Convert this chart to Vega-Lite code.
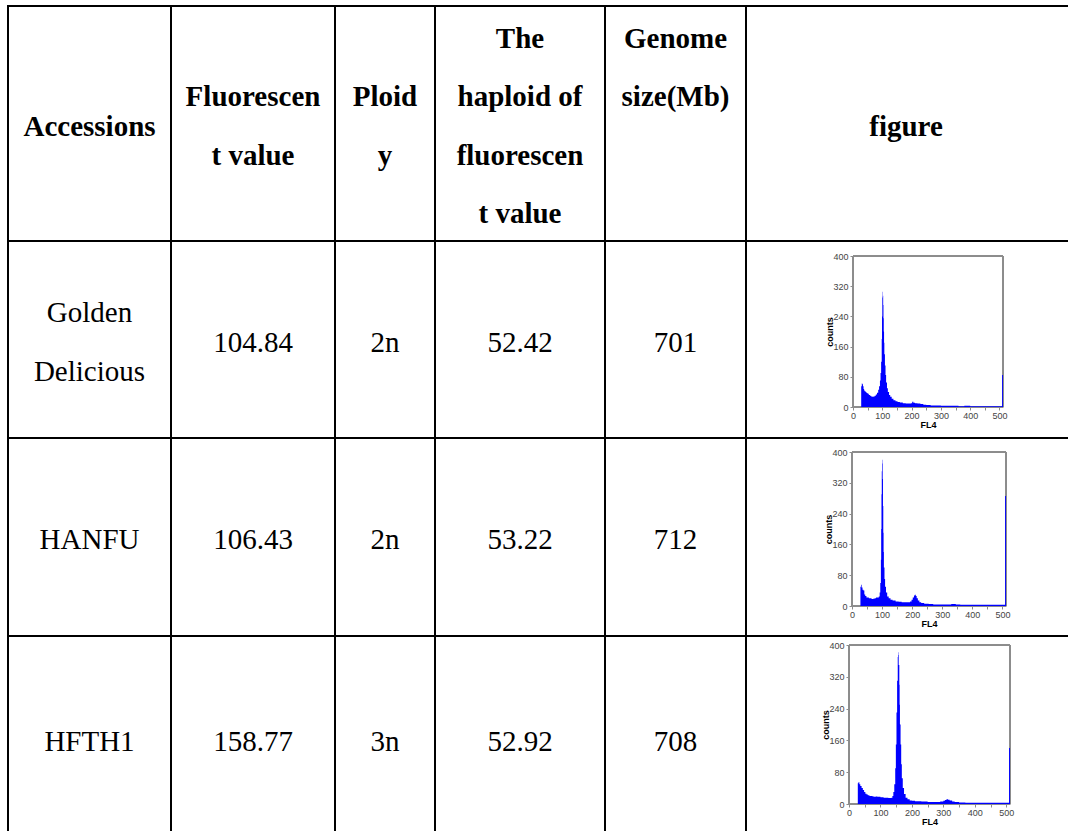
{
  "$schema": "https://vega.github.io/schema/vega-lite/v6.json",
  "background": "white",
  "padding": {"left": 7, "top": 5, "right": 0, "bottom": 0},
  "columns": 6,
  "align": "each",
  "bounds": "flush",
  "spacing": 0,
  "config": {
    "view": {"stroke": "black", "strokeWidth": 2},
    "text": {"font": "Liberation Serif", "fontSize": 29, "color": "black"},
    "axis": {"grid": false, "domainColor": "#8c8c8c", "tickColor": "#8c8c8c", "labelFont": "Liberation Sans", "labelFontSize": 9, "labelLineHeight": 10, "labelColor": "#444444", "titleFont": "Liberation Sans", "titleFontSize": 9, "titleFontWeight": "bold", "titleColor": "black", "labelOverlap": false, "labelFlush": false}
  },
  "datasets": {
    "table": [
      {"id": "GD", "name": "Golden\nDelicious", "fluor": 104.84, "ploidy": "2n", "haploid": 52.42, "genome": 701},
      {"id": "HANFU", "name": "HANFU", "fluor": 106.43, "ploidy": "2n", "haploid": 53.22, "genome": 712},
      {"id": "HFTH1", "name": "HFTH1", "fluor": 158.77, "ploidy": "3n", "haploid": 52.92, "genome": 708}
    ],
    "hist": [
      {"id":"GD","fl":0,"n":0},{"id":"GD","fl":27,"n":0},{"id":"GD","fl":28,"n":55},{"id":"GD","fl":30,"n":62},{"id":"GD","fl":32,"n":60},{"id":"GD","fl":34,"n":55},{"id":"GD","fl":36,"n":48},{"id":"GD","fl":38,"n":44},{"id":"GD","fl":40,"n":42},{"id":"GD","fl":43,"n":40},{"id":"GD","fl":46,"n":37},{"id":"GD","fl":50,"n":35},{"id":"GD","fl":54,"n":32},{"id":"GD","fl":58,"n":30},{"id":"GD","fl":62,"n":28},{"id":"GD","fl":66,"n":27},{"id":"GD","fl":70,"n":28},{"id":"GD","fl":74,"n":30},{"id":"GD","fl":78,"n":33},{"id":"GD","fl":82,"n":38},{"id":"GD","fl":86,"n":46},{"id":"GD","fl":89,"n":55},{"id":"GD","fl":92,"n":70},{"id":"GD","fl":94,"n":90},{"id":"GD","fl":96,"n":120},{"id":"GD","fl":98,"n":180},{"id":"GD","fl":99,"n":240},{"id":"GD","fl":100,"n":290},{"id":"GD","fl":101,"n":305},{"id":"GD","fl":102,"n":295},{"id":"GD","fl":103,"n":270},{"id":"GD","fl":104,"n":235},{"id":"GD","fl":105,"n":200},{"id":"GD","fl":106,"n":170},{"id":"GD","fl":107,"n":140},{"id":"GD","fl":109,"n":110},{"id":"GD","fl":111,"n":85},{"id":"GD","fl":113,"n":65},{"id":"GD","fl":116,"n":50},{"id":"GD","fl":119,"n":40},{"id":"GD","fl":123,"n":32},{"id":"GD","fl":127,"n":27},{"id":"GD","fl":132,"n":22},{"id":"GD","fl":138,"n":18},{"id":"GD","fl":145,"n":15},{"id":"GD","fl":152,"n":13},{"id":"GD","fl":160,"n":12},{"id":"GD","fl":170,"n":10},{"id":"GD","fl":180,"n":9},{"id":"GD","fl":190,"n":9},{"id":"GD","fl":198,"n":10},{"id":"GD","fl":202,"n":14},{"id":"GD","fl":206,"n":11},{"id":"GD","fl":212,"n":10},{"id":"GD","fl":220,"n":9},{"id":"GD","fl":230,"n":8},{"id":"GD","fl":240,"n":6},{"id":"GD","fl":250,"n":5},{"id":"GD","fl":265,"n":4},{"id":"GD","fl":280,"n":4},{"id":"GD","fl":300,"n":3},{"id":"GD","fl":320,"n":3},{"id":"GD","fl":340,"n":3},{"id":"GD","fl":360,"n":2},{"id":"GD","fl":380,"n":3},{"id":"GD","fl":400,"n":2},{"id":"GD","fl":420,"n":2},{"id":"GD","fl":440,"n":2},{"id":"GD","fl":460,"n":2},{"id":"GD","fl":480,"n":2},{"id":"GD","fl":500,"n":2},{"id":"GD","fl":509,"n":85},{"id":"GD","fl":512,"n":85},
      {"id":"HANFU","fl":0,"n":0},{"id":"HANFU","fl":27,"n":0},{"id":"HANFU","fl":28,"n":50},{"id":"HANFU","fl":30,"n":55},{"id":"HANFU","fl":32,"n":48},{"id":"HANFU","fl":35,"n":42},{"id":"HANFU","fl":38,"n":40},{"id":"HANFU","fl":41,"n":30},{"id":"HANFU","fl":44,"n":26},{"id":"HANFU","fl":48,"n":22},{"id":"HANFU","fl":52,"n":22},{"id":"HANFU","fl":56,"n":20},{"id":"HANFU","fl":60,"n":20},{"id":"HANFU","fl":65,"n":18},{"id":"HANFU","fl":70,"n":19},{"id":"HANFU","fl":75,"n":20},{"id":"HANFU","fl":80,"n":22},{"id":"HANFU","fl":85,"n":22},{"id":"HANFU","fl":89,"n":25},{"id":"HANFU","fl":92,"n":35},{"id":"HANFU","fl":94,"n":60},{"id":"HANFU","fl":96,"n":120},{"id":"HANFU","fl":97,"n":200},{"id":"HANFU","fl":98,"n":290},{"id":"HANFU","fl":99,"n":350},{"id":"HANFU","fl":100,"n":380},{"id":"HANFU","fl":101,"n":370},{"id":"HANFU","fl":102,"n":330},{"id":"HANFU","fl":103,"n":260},{"id":"HANFU","fl":104,"n":190},{"id":"HANFU","fl":105,"n":140},{"id":"HANFU","fl":106,"n":100},{"id":"HANFU","fl":108,"n":70},{"id":"HANFU","fl":110,"n":50},{"id":"HANFU","fl":113,"n":35},{"id":"HANFU","fl":117,"n":25},{"id":"HANFU","fl":122,"n":20},{"id":"HANFU","fl":128,"n":16},{"id":"HANFU","fl":135,"n":14},{"id":"HANFU","fl":145,"n":12},{"id":"HANFU","fl":155,"n":11},{"id":"HANFU","fl":165,"n":10},{"id":"HANFU","fl":175,"n":10},{"id":"HANFU","fl":185,"n":10},{"id":"HANFU","fl":193,"n":12},{"id":"HANFU","fl":198,"n":16},{"id":"HANFU","fl":202,"n":22},{"id":"HANFU","fl":206,"n":27},{"id":"HANFU","fl":209,"n":29},{"id":"HANFU","fl":212,"n":26},{"id":"HANFU","fl":215,"n":20},{"id":"HANFU","fl":219,"n":14},{"id":"HANFU","fl":224,"n":10},{"id":"HANFU","fl":230,"n":8},{"id":"HANFU","fl":240,"n":6},{"id":"HANFU","fl":255,"n":5},{"id":"HANFU","fl":270,"n":4},{"id":"HANFU","fl":290,"n":4},{"id":"HANFU","fl":310,"n":4},{"id":"HANFU","fl":330,"n":5},{"id":"HANFU","fl":345,"n":4},{"id":"HANFU","fl":360,"n":3},{"id":"HANFU","fl":380,"n":3},{"id":"HANFU","fl":400,"n":3},{"id":"HANFU","fl":430,"n":3},{"id":"HANFU","fl":460,"n":3},{"id":"HANFU","fl":490,"n":3},{"id":"HANFU","fl":505,"n":3},{"id":"HANFU","fl":509,"n":286},{"id":"HANFU","fl":512,"n":286},
      {"id":"HFTH1","fl":0,"n":0},{"id":"HFTH1","fl":27,"n":0},{"id":"HFTH1","fl":28,"n":52},{"id":"HFTH1","fl":30,"n":55},{"id":"HFTH1","fl":33,"n":50},{"id":"HFTH1","fl":36,"n":45},{"id":"HFTH1","fl":40,"n":40},{"id":"HFTH1","fl":44,"n":35},{"id":"HFTH1","fl":48,"n":30},{"id":"HFTH1","fl":52,"n":26},{"id":"HFTH1","fl":56,"n":24},{"id":"HFTH1","fl":60,"n":22},{"id":"HFTH1","fl":65,"n":20},{"id":"HFTH1","fl":70,"n":20},{"id":"HFTH1","fl":75,"n":19},{"id":"HFTH1","fl":80,"n":18},{"id":"HFTH1","fl":85,"n":19},{"id":"HFTH1","fl":90,"n":18},{"id":"HFTH1","fl":95,"n":18},{"id":"HFTH1","fl":100,"n":17},{"id":"HFTH1","fl":105,"n":17},{"id":"HFTH1","fl":110,"n":16},{"id":"HFTH1","fl":115,"n":16},{"id":"HFTH1","fl":120,"n":16},{"id":"HFTH1","fl":125,"n":15},{"id":"HFTH1","fl":130,"n":15},{"id":"HFTH1","fl":135,"n":16},{"id":"HFTH1","fl":138,"n":20},{"id":"HFTH1","fl":141,"n":30},{"id":"HFTH1","fl":144,"n":50},{"id":"HFTH1","fl":147,"n":90},{"id":"HFTH1","fl":149,"n":150},{"id":"HFTH1","fl":151,"n":230},{"id":"HFTH1","fl":153,"n":310},{"id":"HFTH1","fl":155,"n":370},{"id":"HFTH1","fl":156,"n":382},{"id":"HFTH1","fl":157,"n":375},{"id":"HFTH1","fl":158,"n":350},{"id":"HFTH1","fl":160,"n":300},{"id":"HFTH1","fl":161,"n":250},{"id":"HFTH1","fl":162,"n":200},{"id":"HFTH1","fl":164,"n":150},{"id":"HFTH1","fl":166,"n":100},{"id":"HFTH1","fl":168,"n":65},{"id":"HFTH1","fl":171,"n":40},{"id":"HFTH1","fl":175,"n":25},{"id":"HFTH1","fl":180,"n":16},{"id":"HFTH1","fl":186,"n":12},{"id":"HFTH1","fl":193,"n":9},{"id":"HFTH1","fl":200,"n":8},{"id":"HFTH1","fl":210,"n":7},{"id":"HFTH1","fl":220,"n":7},{"id":"HFTH1","fl":230,"n":6},{"id":"HFTH1","fl":240,"n":6},{"id":"HFTH1","fl":250,"n":5},{"id":"HFTH1","fl":260,"n":5},{"id":"HFTH1","fl":270,"n":5},{"id":"HFTH1","fl":280,"n":5},{"id":"HFTH1","fl":290,"n":6},{"id":"HFTH1","fl":300,"n":8},{"id":"HFTH1","fl":305,"n":10},{"id":"HFTH1","fl":310,"n":12},{"id":"HFTH1","fl":315,"n":11},{"id":"HFTH1","fl":320,"n":9},{"id":"HFTH1","fl":328,"n":6},{"id":"HFTH1","fl":336,"n":5},{"id":"HFTH1","fl":350,"n":4},{"id":"HFTH1","fl":370,"n":3},{"id":"HFTH1","fl":390,"n":3},{"id":"HFTH1","fl":410,"n":3},{"id":"HFTH1","fl":430,"n":3},{"id":"HFTH1","fl":450,"n":3},{"id":"HFTH1","fl":470,"n":3},{"id":"HFTH1","fl":490,"n":3},{"id":"HFTH1","fl":505,"n":3},{"id":"HFTH1","fl":509,"n":141},{"id":"HFTH1","fl":512,"n":141}
    ]
  },
  "concat": [
    {"width": 163, "height": 235, "data": {"values": [{}]}, "mark": {"type": "text", "fontWeight": "bold", "dy": 3}, "encoding": {"x": {"datum": 0.5, "type": "quantitative", "scale": {"domain": [0, 1]}, "axis": null}, "y": {"datum": 0.5, "type": "quantitative", "scale": {"domain": [0, 1]}, "axis": null}, "text": {"value": "Accessions"}}},
    {"width": 164, "height": 235, "data": {"values": [{}]}, "mark": {"type": "text", "fontWeight": "bold", "lineBreak": "\n", "lineHeight": 58.5, "dy": -26.25}, "encoding": {"x": {"datum": 0.5, "type": "quantitative", "scale": {"domain": [0, 1]}, "axis": null}, "y": {"datum": 0.5, "type": "quantitative", "scale": {"domain": [0, 1]}, "axis": null}, "text": {"value": "Fluorescen\nt value"}}},
    {"width": 100, "height": 235, "data": {"values": [{}]}, "mark": {"type": "text", "fontWeight": "bold", "lineBreak": "\n", "lineHeight": 58.5, "dy": -26.25}, "encoding": {"x": {"datum": 0.5, "type": "quantitative", "scale": {"domain": [0, 1]}, "axis": null}, "y": {"datum": 0.5, "type": "quantitative", "scale": {"domain": [0, 1]}, "axis": null}, "text": {"value": "Ploid\ny"}}},
    {"width": 170, "height": 235, "data": {"values": [{}]}, "mark": {"type": "text", "fontWeight": "bold", "lineBreak": "\n", "lineHeight": 58.5, "dy": -84.75}, "encoding": {"x": {"datum": 0.5, "type": "quantitative", "scale": {"domain": [0, 1]}, "axis": null}, "y": {"datum": 0.5, "type": "quantitative", "scale": {"domain": [0, 1]}, "axis": null}, "text": {"value": "The\nhaploid of\nfluorescen\nt value"}}},
    {"width": 141, "height": 235, "data": {"values": [{}]}, "mark": {"type": "text", "fontWeight": "bold", "lineBreak": "\n", "lineHeight": 58.5, "dy": -84.75}, "encoding": {"x": {"datum": 0.5, "type": "quantitative", "scale": {"domain": [0, 1]}, "axis": null}, "y": {"datum": 0.5, "type": "quantitative", "scale": {"domain": [0, 1]}, "axis": null}, "text": {"value": "Genome\nsize(Mb)"}}},
    {"width": 324, "height": 235, "data": {"values": [{}]}, "mark": {"type": "text", "fontWeight": "bold", "dx": -2, "dy": 3}, "encoding": {"x": {"datum": 0.5, "type": "quantitative", "scale": {"domain": [0, 1]}, "axis": null}, "y": {"datum": 0.5, "type": "quantitative", "scale": {"domain": [0, 1]}, "axis": null}, "text": {"value": "figure"}}},

    {"width": 163, "height": 197, "data": {"name": "table"}, "transform": [{"filter": "datum.id === 'GD'"}], "mark": {"type": "text", "lineBreak": "\n", "lineHeight": 58.5, "dy": -26.25}, "encoding": {"x": {"datum": 0.5, "type": "quantitative", "scale": {"domain": [0, 1]}, "axis": null}, "y": {"datum": 0.5, "type": "quantitative", "scale": {"domain": [0, 1]}, "axis": null}, "text": {"field": "name", "type": "nominal"}}},
    {"width": 164, "height": 197, "data": {"name": "table"}, "transform": [{"filter": "datum.id === 'GD'"}], "mark": {"type": "text", "dy": 3}, "encoding": {"x": {"datum": 0.5, "type": "quantitative", "scale": {"domain": [0, 1]}, "axis": null}, "y": {"datum": 0.5, "type": "quantitative", "scale": {"domain": [0, 1]}, "axis": null}, "text": {"field": "fluor", "type": "quantitative", "format": ".2f"}}},
    {"width": 100, "height": 197, "data": {"name": "table"}, "transform": [{"filter": "datum.id === 'GD'"}], "mark": {"type": "text", "dy": 3}, "encoding": {"x": {"datum": 0.5, "type": "quantitative", "scale": {"domain": [0, 1]}, "axis": null}, "y": {"datum": 0.5, "type": "quantitative", "scale": {"domain": [0, 1]}, "axis": null}, "text": {"field": "ploidy", "type": "nominal"}}},
    {"width": 170, "height": 197, "data": {"name": "table"}, "transform": [{"filter": "datum.id === 'GD'"}], "mark": {"type": "text", "dy": 3}, "encoding": {"x": {"datum": 0.5, "type": "quantitative", "scale": {"domain": [0, 1]}, "axis": null}, "y": {"datum": 0.5, "type": "quantitative", "scale": {"domain": [0, 1]}, "axis": null}, "text": {"field": "haploid", "type": "quantitative", "format": ".2f"}}},
    {"width": 141, "height": 197, "data": {"name": "table"}, "transform": [{"filter": "datum.id === 'GD'"}], "mark": {"type": "text", "dy": 3}, "encoding": {"x": {"datum": 0.5, "type": "quantitative", "scale": {"domain": [0, 1]}, "axis": null}, "y": {"datum": 0.5, "type": "quantitative", "scale": {"domain": [0, 1]}, "axis": null}, "text": {"field": "genome", "type": "quantitative", "format": "d"}}},
    {"width": 324, "height": 197, "data": {"name": "hist"}, "transform": [{"filter": "datum.id === 'GD'"}],
     "layer": [
       {"mark": {"type": "rect", "filled": false, "color": "#8c8c8c", "strokeWidth": 1},
        "encoding": {
          "x": {"datum": 0, "type": "quantitative", "scale": {"domain": [0, 512], "range": [107, 257]},
                "axis": {"title": "FL4", "offset": -31, "values": [0,50,100,150,200,250,300,350,400,450,500], "labelExpr": "datum.value % 100 === 0 ? datum.label : ''", "labelOverlap": false, "tickSize": 3, "labelPadding": 1, "titlePadding": 0}},
          "x2": {"datum": 512},
          "y": {"datum": 0, "type": "quantitative", "scale": {"domain": [0, 400], "range": [166, 15]},
                "axis": {"title": "counts", "offset": -107, "values": [0,80,160,240,320,400], "labelOverlap": false, "tickSize": 3, "labelPadding": 2, "titlePadding": -2}},
          "y2": {"datum": 400}}},
       {"mark": {"type": "area", "interpolate": "step-after", "color": "#0000ff"},
        "encoding": {
          "x": {"field": "fl", "type": "quantitative", "scale": {"domain": [0, 512], "range": [107, 257]},
                "axis": {"title": "FL4", "offset": -31, "values": [0,50,100,150,200,250,300,350,400,450,500], "labelExpr": "datum.value % 100 === 0 ? datum.label : ''", "labelOverlap": false, "tickSize": 3, "labelPadding": 1, "titlePadding": 0}},
          "y": {"field": "n", "type": "quantitative", "scale": {"domain": [0, 400], "range": [166, 15]},
                "axis": {"title": "counts", "offset": -107, "values": [0,80,160,240,320,400], "labelOverlap": false, "tickSize": 3, "labelPadding": 2, "titlePadding": -2}}
        }}
     ]},

    {"width": 163, "height": 198, "data": {"name": "table"}, "transform": [{"filter": "datum.id === 'HANFU'"}], "mark": {"type": "text", "dy": 3}, "encoding": {"x": {"datum": 0.5, "type": "quantitative", "scale": {"domain": [0, 1]}, "axis": null}, "y": {"datum": 0.5, "type": "quantitative", "scale": {"domain": [0, 1]}, "axis": null}, "text": {"field": "name", "type": "nominal"}}},
    {"width": 164, "height": 198, "data": {"name": "table"}, "transform": [{"filter": "datum.id === 'HANFU'"}], "mark": {"type": "text", "dy": 3}, "encoding": {"x": {"datum": 0.5, "type": "quantitative", "scale": {"domain": [0, 1]}, "axis": null}, "y": {"datum": 0.5, "type": "quantitative", "scale": {"domain": [0, 1]}, "axis": null}, "text": {"field": "fluor", "type": "quantitative", "format": ".2f"}}},
    {"width": 100, "height": 198, "data": {"name": "table"}, "transform": [{"filter": "datum.id === 'HANFU'"}], "mark": {"type": "text", "dy": 3}, "encoding": {"x": {"datum": 0.5, "type": "quantitative", "scale": {"domain": [0, 1]}, "axis": null}, "y": {"datum": 0.5, "type": "quantitative", "scale": {"domain": [0, 1]}, "axis": null}, "text": {"field": "ploidy", "type": "nominal"}}},
    {"width": 170, "height": 198, "data": {"name": "table"}, "transform": [{"filter": "datum.id === 'HANFU'"}], "mark": {"type": "text", "dy": 3}, "encoding": {"x": {"datum": 0.5, "type": "quantitative", "scale": {"domain": [0, 1]}, "axis": null}, "y": {"datum": 0.5, "type": "quantitative", "scale": {"domain": [0, 1]}, "axis": null}, "text": {"field": "haploid", "type": "quantitative", "format": ".2f"}}},
    {"width": 141, "height": 198, "data": {"name": "table"}, "transform": [{"filter": "datum.id === 'HANFU'"}], "mark": {"type": "text", "dy": 3}, "encoding": {"x": {"datum": 0.5, "type": "quantitative", "scale": {"domain": [0, 1]}, "axis": null}, "y": {"datum": 0.5, "type": "quantitative", "scale": {"domain": [0, 1]}, "axis": null}, "text": {"field": "genome", "type": "quantitative", "format": "d"}}},
    {"width": 324, "height": 198, "data": {"name": "hist"}, "transform": [{"filter": "datum.id === 'HANFU'"}],
     "layer": [
       {"mark": {"type": "rect", "filled": false, "color": "#8c8c8c", "strokeWidth": 1},
        "encoding": {
          "x": {"datum": 0, "type": "quantitative", "scale": {"domain": [0, 512], "range": [106, 260]},
                "axis": {"title": "FL4", "offset": -30, "values": [0,50,100,150,200,250,300,350,400,450,500], "labelExpr": "datum.value % 100 === 0 ? datum.label : ''", "labelOverlap": false, "tickSize": 3, "labelPadding": 1, "titlePadding": 0}},
          "x2": {"datum": 512},
          "y": {"datum": 0, "type": "quantitative", "scale": {"domain": [0, 400], "range": [168, 14]},
                "axis": {"title": "counts", "offset": -106, "values": [0,80,160,240,320,400], "labelOverlap": false, "tickSize": 3, "labelPadding": 2, "titlePadding": -2}},
          "y2": {"datum": 400}}},
       {"mark": {"type": "area", "interpolate": "step-after", "color": "#0000ff"},
        "encoding": {
          "x": {"field": "fl", "type": "quantitative", "scale": {"domain": [0, 512], "range": [106, 260]},
                "axis": {"title": "FL4", "offset": -30, "values": [0,50,100,150,200,250,300,350,400,450,500], "labelExpr": "datum.value % 100 === 0 ? datum.label : ''", "labelOverlap": false, "tickSize": 3, "labelPadding": 1, "titlePadding": 0}},
          "y": {"field": "n", "type": "quantitative", "scale": {"domain": [0, 400], "range": [168, 14]},
                "axis": {"title": "counts", "offset": -106, "values": [0,80,160,240,320,400], "labelOverlap": false, "tickSize": 3, "labelPadding": 2, "titlePadding": -2}}
        }}
     ]},

    {"width": 163, "height": 206, "data": {"name": "table"}, "transform": [{"filter": "datum.id === 'HFTH1'"}], "mark": {"type": "text", "dy": 3}, "encoding": {"x": {"datum": 0.5, "type": "quantitative", "scale": {"domain": [0, 1]}, "axis": null}, "y": {"datum": 0.5, "type": "quantitative", "scale": {"domain": [0, 1]}, "axis": null}, "text": {"field": "name", "type": "nominal"}}},
    {"width": 164, "height": 206, "data": {"name": "table"}, "transform": [{"filter": "datum.id === 'HFTH1'"}], "mark": {"type": "text", "dy": 3}, "encoding": {"x": {"datum": 0.5, "type": "quantitative", "scale": {"domain": [0, 1]}, "axis": null}, "y": {"datum": 0.5, "type": "quantitative", "scale": {"domain": [0, 1]}, "axis": null}, "text": {"field": "fluor", "type": "quantitative", "format": ".2f"}}},
    {"width": 100, "height": 206, "data": {"name": "table"}, "transform": [{"filter": "datum.id === 'HFTH1'"}], "mark": {"type": "text", "dy": 3}, "encoding": {"x": {"datum": 0.5, "type": "quantitative", "scale": {"domain": [0, 1]}, "axis": null}, "y": {"datum": 0.5, "type": "quantitative", "scale": {"domain": [0, 1]}, "axis": null}, "text": {"field": "ploidy", "type": "nominal"}}},
    {"width": 170, "height": 206, "data": {"name": "table"}, "transform": [{"filter": "datum.id === 'HFTH1'"}], "mark": {"type": "text", "dy": 3}, "encoding": {"x": {"datum": 0.5, "type": "quantitative", "scale": {"domain": [0, 1]}, "axis": null}, "y": {"datum": 0.5, "type": "quantitative", "scale": {"domain": [0, 1]}, "axis": null}, "text": {"field": "haploid", "type": "quantitative", "format": ".2f"}}},
    {"width": 141, "height": 206, "data": {"name": "table"}, "transform": [{"filter": "datum.id === 'HFTH1'"}], "mark": {"type": "text", "dy": 3}, "encoding": {"x": {"datum": 0.5, "type": "quantitative", "scale": {"domain": [0, 1]}, "axis": null}, "y": {"datum": 0.5, "type": "quantitative", "scale": {"domain": [0, 1]}, "axis": null}, "text": {"field": "genome", "type": "quantitative", "format": "d"}}},
    {"width": 324, "height": 206, "data": {"name": "hist"}, "transform": [{"filter": "datum.id === 'HFTH1'"}],
     "layer": [
       {"mark": {"type": "rect", "filled": false, "color": "#8c8c8c", "strokeWidth": 1},
        "encoding": {
          "x": {"datum": 0, "type": "quantitative", "scale": {"domain": [0, 512], "range": [103, 264]},
                "axis": {"title": "FL4", "offset": -38, "values": [0,50,100,150,200,250,300,350,400,450,500], "labelExpr": "datum.value % 100 === 0 ? datum.label : ''", "labelOverlap": false, "tickSize": 3, "labelPadding": 1, "titlePadding": 0}},
          "x2": {"datum": 512},
          "y": {"datum": 0, "type": "quantitative", "scale": {"domain": [0, 400], "range": [168, 9]},
                "axis": {"title": "counts", "offset": -103, "values": [0,80,160,240,320,400], "labelOverlap": false, "tickSize": 3, "labelPadding": 2, "titlePadding": -2}},
          "y2": {"datum": 400}}},
       {"mark": {"type": "area", "interpolate": "step-after", "color": "#0000ff"},
        "encoding": {
          "x": {"field": "fl", "type": "quantitative", "scale": {"domain": [0, 512], "range": [103, 264]},
                "axis": {"title": "FL4", "offset": -38, "values": [0,50,100,150,200,250,300,350,400,450,500], "labelExpr": "datum.value % 100 === 0 ? datum.label : ''", "labelOverlap": false, "tickSize": 3, "labelPadding": 1, "titlePadding": 0}},
          "y": {"field": "n", "type": "quantitative", "scale": {"domain": [0, 400], "range": [168, 9]},
                "axis": {"title": "counts", "offset": -103, "values": [0,80,160,240,320,400], "labelOverlap": false, "tickSize": 3, "labelPadding": 2, "titlePadding": -2}}
        }}
     ]}
  ]
}
